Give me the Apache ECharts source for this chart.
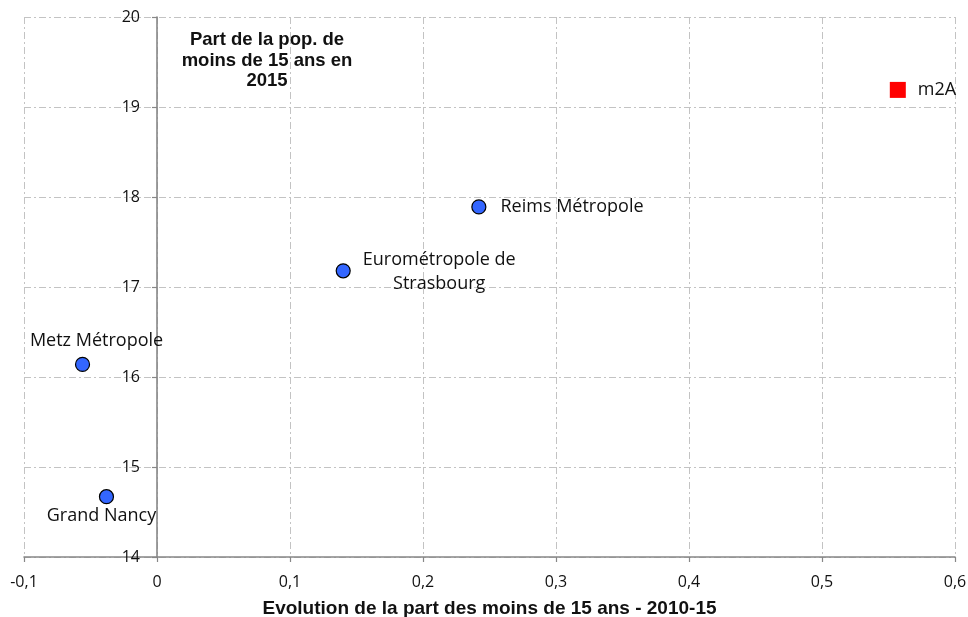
<!DOCTYPE html>
<html>
<head>
<meta charset="utf-8">
<script src="https://cdn.jsdelivr.net/npm/echarts@6/dist/echarts.min.js"></script>
<style>html,body{margin:0;padding:0;background:#fff}#c{width:968px;height:617px}</style>
</head>
<body>
<div id="c"></div>
<script>
// ---- data ----
var epciNames = ['Reims Métropole', 'Eurométropole de\nStrasbourg', 'Metz Métropole', 'Grand Nancy'];
var evolution = [0.242, 0.140, -0.056, -0.038];
var partMoins15 = [17.89, 17.18, 16.14, 14.67];
var refName = ['m2A'];
var refEvolution = [0.557];
var refPart = [19.19];
var xTicks = { min: -0.1, max: 0.6, step: 0.1 };
var yTicks = { min: 14, max: 20, step: 1 };
var xTitle = 'Evolution de la part des moins de 15 ans - 2010-15';
var yTitle = 'Part de la pop. de\nmoins de 15 ans en\n2015';

// ---- label placement (style only) ----
var labelPlacement = [
  { position: 'right', distance: 14, align: 'left', offset: [0, 0] },
  { position: 'inside', align: 'center', offset: [96, 1] },
  { position: 'inside', align: 'center', offset: [14, -24] },
  { position: 'inside', align: 'center', offset: [-5, 19] }
];

var FONT = '"Open Sans", "Noto Sans", sans-serif';
var gridLine = { color: '#c3c3c3', width: 1, type: [7, 3, 2, 3] };
var axisCol = '#878787';

var GRID = { left: 24, right: 13, top: 17, bottom: 60 };
var plotW = 968 - GRID.left - GRID.right;
// y axis sits at x = 0 of the x scale
var yAxisOffset = -plotW * (0 - xTicks.min) / (xTicks.max - xTicks.min);

var pts = epciNames.map(function (n, i) {
  var lp = labelPlacement[i];
  return {
    name: n,
    value: [evolution[i], partMoins15[i]],
    label: {
      show: true, formatter: '{b}', position: lp.position, distance: lp.distance,
      align: lp.align, offset: lp.offset, color: '#111', fontFamily: FONT, fontSize: 18,
      lineHeight: 24
    }
  };
});
var refPts = refName.map(function (n, i) {
  return { name: n, value: [refEvolution[i], refPart[i]] };
});

function fmt(v) { return String(Math.round(v * 10) / 10).replace('.', ','); }

var chart = echarts.init(document.getElementById('c'), null, { renderer: 'canvas' });
chart.setOption({
  animation: false,
  backgroundColor: '#fff',
  grid: { left: GRID.left, right: GRID.right, top: GRID.top, bottom: GRID.bottom, containLabel: false, outerBoundsMode: 'none' },
  xAxis: {
    type: 'value', min: xTicks.min, max: xTicks.max, interval: xTicks.step,
    name: xTitle, nameLocation: 'middle', nameGap: 42,
    nameTextStyle: { fontFamily: '"Liberation Sans", Arial, sans-serif', fontWeight: 'bold', fontSize: 19, color: '#111' },
    axisLine: { show: true, onZero: false, lineStyle: { color: axisCol, width: 1.6 } },
    axisTick: { show: true, length: 5, lineStyle: { color: axisCol, width: 1.2 } },
    axisLabel: { margin: 17, color: '#111', fontFamily: FONT, fontSize: 16, formatter: fmt },
    splitLine: { show: true, showMinLine: true, showMaxLine: true, lineStyle: gridLine }
  },
  yAxis: {
    type: 'value', min: yTicks.min, max: yTicks.max, interval: yTicks.step,
    offset: yAxisOffset,
    axisLine: { show: true, onZero: false, lineStyle: { color: axisCol, width: 1.6 } },
    axisTick: { show: true, length: 5, lineStyle: { color: axisCol, width: 1.2 } },
    axisLabel: { margin: 17, color: '#111', fontFamily: FONT, fontSize: 16 },
    splitLine: { show: true, showMinLine: true, showMaxLine: true, lineStyle: gridLine }
  },
  graphic: [{
    type: 'text', left: 267 - 100, top: 30,
    style: {
      text: yTitle, x: 100, textAlign: 'center', width: 200,
      font: 'bold 18.5px "Liberation Sans", Arial, sans-serif', fill: '#111', lineHeight: 20.5
    }
  }],
  series: [{
    type: 'scatter', symbol: 'circle', symbolSize: 14,
    itemStyle: { color: '#3366ff', borderColor: '#000', borderWidth: 1.2, opacity: 1 },
    data: pts, z: 3
  }, {
    type: 'scatter', symbol: 'rect', symbolSize: 16,
    itemStyle: { color: '#ff0000', opacity: 1 },
    label: { show: true, formatter: '{b}', position: 'right', distance: 12, color: '#111', fontFamily: FONT, fontSize: 18 },
    data: refPts, z: 3
  }]
});
</script>
</body>
</html>
